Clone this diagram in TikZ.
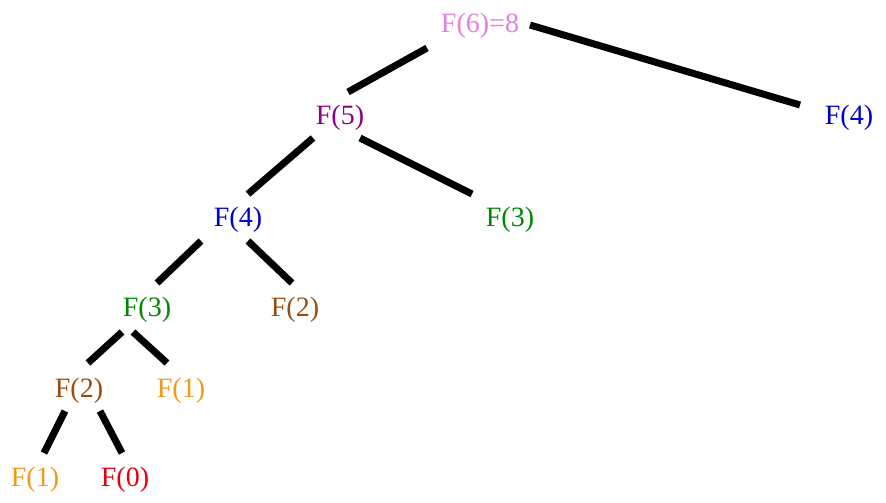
\documentclass[tikz,border=0pt]{standalone}
\usepackage{fontspec}
\setmainfont{Liberation Serif}
\usetikzlibrary{calc}
\definecolor{pinkish}{rgb}{0.9,0.5,0.87}
\definecolor{purp}{rgb}{0.55,0,0.55}
\definecolor{blu}{rgb}{0,0,0.8}
\definecolor{grn}{rgb}{0,0.53,0}
\definecolor{brwn}{rgb}{0.6,0.3,0.05}
\definecolor{orng}{rgb}{0.95,0.6,0.1}
\definecolor{rd}{rgb}{0.9,0,0.05}
\tikzset{fib/.style={font=\fontsize{28}{32}\selectfont, inner sep=0pt},
         edge/.style={line width=7pt}}

\begin{document}
\begin{tikzpicture}[x=1pt,y=-1pt]
	\useasboundingbox (0,0) rectangle (886,503);
	% level 0-1
	\node[fib, text=pinkish] (f6) at (480,26) {F(6)=8};
	\node[fib, text=purp] (f5) at (340,118) {F(5)};
	\node[fib, text=blu] (f4r) at (849,118) {F(4)};
	% level 2
	\node[fib, text=blu] (f4) at (238,220) {F(4)};
	\node[fib, text=grn] (f3r) at (510,220) {F(3)};
	% level 3
	\node[fib, text=grn] (f3) at (147,310) {F(3)};
	\node[fib, text=brwn] (f2r) at (295,310) {F(2)};
	% level 4
	\node[fib, text=brwn] (f2) at (79,391) {F(2)};
	\node[fib, text=orng] (f1r) at (181,391) {F(1)};
	% level 5
	\node[fib, text=orng] (f1) at (35,480) {F(1)};
	\node[fib, text=rd] (f0) at (125,480) {F(0)};

	\draw [edge] ($(f6)+(-53,22)$) -- ($(f5)+(8,-26)$);
	\draw [edge] ($(f6)+(50,-1)$) -- ($(f4r)+(-49,-13)$);
	\draw [edge] ($(f5)+(-27,20)$) -- ($(f4)+(10,-26)$);
	\draw [edge] ($(f5)+(20,20)$) -- ($(f3r)+(-38,-26)$);
	\draw [edge] ($(f4)+(-37,21)$) -- ($(f3)+(10,-27)$);
	\draw [edge] ($(f4)+(10,21)$) -- ($(f2r)+(-3,-27)$);
	\draw [edge] ($(f3)+(-25,22)$) -- ($(f2)+(9,-28)$);
	\draw [edge] ($(f3)+(-14,22)$) -- ($(f1r)+(-14,-28)$);
	\draw [edge] ($(f2)+(-14,20)$) -- ($(f1)+(9,-27)$);
	\draw [edge] ($(f2)+(21,20)$) -- ($(f0)+(-3,-27)$);
\end{tikzpicture}
\end{document}
